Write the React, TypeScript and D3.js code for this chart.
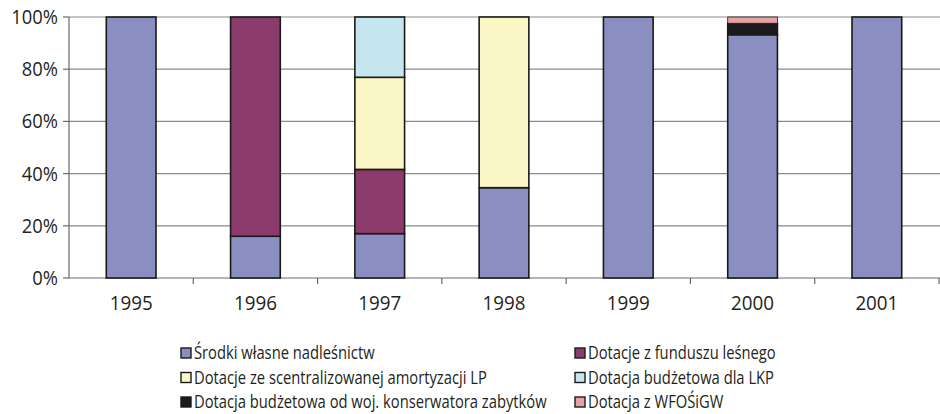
import React from "react";
import * as d3 from "d3";

const years = ["1995", "1996", "1997", "1998", "1999", "2000", "2001"];
const seriesNames = [
  "Środki własne nadleśnictw",
  "Dotacje z funduszu leśnego",
  "Dotacje ze scentralizowanej amortyzacji LP",
  "Dotacja budżetowa dla LKP",
  "Dotacja budżetowa od woj. konserwatora zabytków",
  "Dotacja z WFOŚiGW",
];
const srodkiWlasne = [100, 16, 17, 34.6, 100, 93.2, 100];
const funduszLesny = [0, 84, 24.6, 0, 0, 0, 0];
const amortyzacja = [0, 0, 35.3, 65.4, 0, 0, 0];
const dotacjaLKP = [0, 0, 23.1, 0, 0, 0, 0];
const konserwator = [0, 0, 0, 0, 0, 4.4, 0];
const wfosigw = [0, 0, 0, 0, 0, 2.4, 0];
const yTicks = [0, 20, 40, 60, 80, 100];

const colors = ["#8b8ec1", "#8c3c6c", "#fbf6c6", "#c6e6ef", "#1c1a1c", "#e8a2a6"];
const legendOrder = [0, 1, 2, 3, 4, 5];

const W = 940;
const H = 414;
const M = { left: 69, right: 939, top: 17, bottom: 278 };
const FONT = "'Open Sans', sans-serif";

export default function App() {
  const allSeries = [srodkiWlasne, funduszLesny, amortyzacja, dotacjaLKP, konserwator, wfosigw];
  const table = years.map((y, i) => {
    const row: any = { year: y };
    allSeries.forEach((s, k) => (row["s" + k] = s[i]));
    return row;
  });
  const keys = allSeries.map((_, k) => "s" + k);
  const stacked = d3.stack().keys(keys)(table);

  const x = d3.scaleBand().domain(years).range([M.left, M.right]).paddingInner(0.6).paddingOuter(0.3);
  const xOuter = d3.scaleBand().domain(years).range([M.left, M.right]).padding(0);
  const y = d3.scaleLinear().domain([0, 100]).range([M.bottom, M.top]);

  return (
    <svg width={W} height={H} style={{ display: "block", position: "absolute", left: 0, top: 0, background: "#fff" }}>
      {yTicks.map((t) => (
        <g key={t}>
          {t > 0 && (
            <line x1={M.left} x2={M.right + 1} y1={y(t)} y2={y(t)} stroke="#8a8a8a" strokeWidth={1.2} />
          )}
          <line x1={M.left - 6} x2={M.left} y1={y(t)} y2={y(t)} stroke="#6a6a6a" strokeWidth={1.2} />
          <g transform={`translate(${M.left - 11},${y(t)}) scale(0.92,1)`}>
            <text x={0} y={0} dy="0.35em" textAnchor="end" fontFamily={FONT} fontSize={20} fill="#231f20">
              {t}%
            </text>
          </g>
        </g>
      ))}
      <line x1={M.left} x2={M.left} y1={M.top} y2={M.bottom} stroke="#6a6a6a" strokeWidth={1.2} />
      <line x1={M.left} x2={M.right + 1} y1={M.bottom} y2={M.bottom} stroke="#6a6a6a" strokeWidth={1.2} />
      {years.map((yr) => (
        <line
          key={"t" + yr}
          x1={(xOuter(yr) as number) + xOuter.bandwidth()}
          x2={(xOuter(yr) as number) + xOuter.bandwidth()}
          y1={M.bottom}
          y2={M.bottom + 6}
          stroke="#6a6a6a"
          strokeWidth={1.2}
        />
      ))}
      {stacked.map((layer, k) => (
        <g key={k}>
          {layer.map((d, i) =>
            d[1] - d[0] > 0 ? (
              <rect
                key={i}
                x={x(years[i])}
                width={x.bandwidth()}
                y={y(d[1])}
                height={y(d[0]) - y(d[1])}
                fill={colors[k]}
                stroke="#1a1a1a"
                strokeWidth={k === 5 ? 0.8 : 1.6}
              />
            ) : null
          )}
        </g>
      ))}
      {years.map((yr) => (
        <g key={"l" + yr} transform={`translate(${(xOuter(yr) as number) + xOuter.bandwidth() / 2},303) scale(0.94,1)`}>
          <text x={0} y={0} dy="0.35em" textAnchor="middle" fontFamily={FONT} fontSize={20} fill="#231f20">
            {yr}
          </text>
        </g>
      ))}
      {legendOrder.map((k, idx) => {
        const col = idx % 2;
        const row = Math.floor(idx / 2);
        const lx = col === 0 ? 181 : 575;
        const ly = 353 + row * 24.5;
        return (
          <g key={"lg" + k}>
            <rect x={lx} y={ly - 5} width={10} height={10} fill={colors[k]} stroke="#1a1a1a" strokeWidth={1.4} />
            <g transform={`translate(${lx + 13},${ly}) scale(0.82,1)`}>
              <text x={0} y={0} dy="0.35em" fontFamily={FONT} fontSize={18} fill="#231f20">
                {seriesNames[k]}
              </text>
            </g>
          </g>
        );
      })}
    </svg>
  );
}
